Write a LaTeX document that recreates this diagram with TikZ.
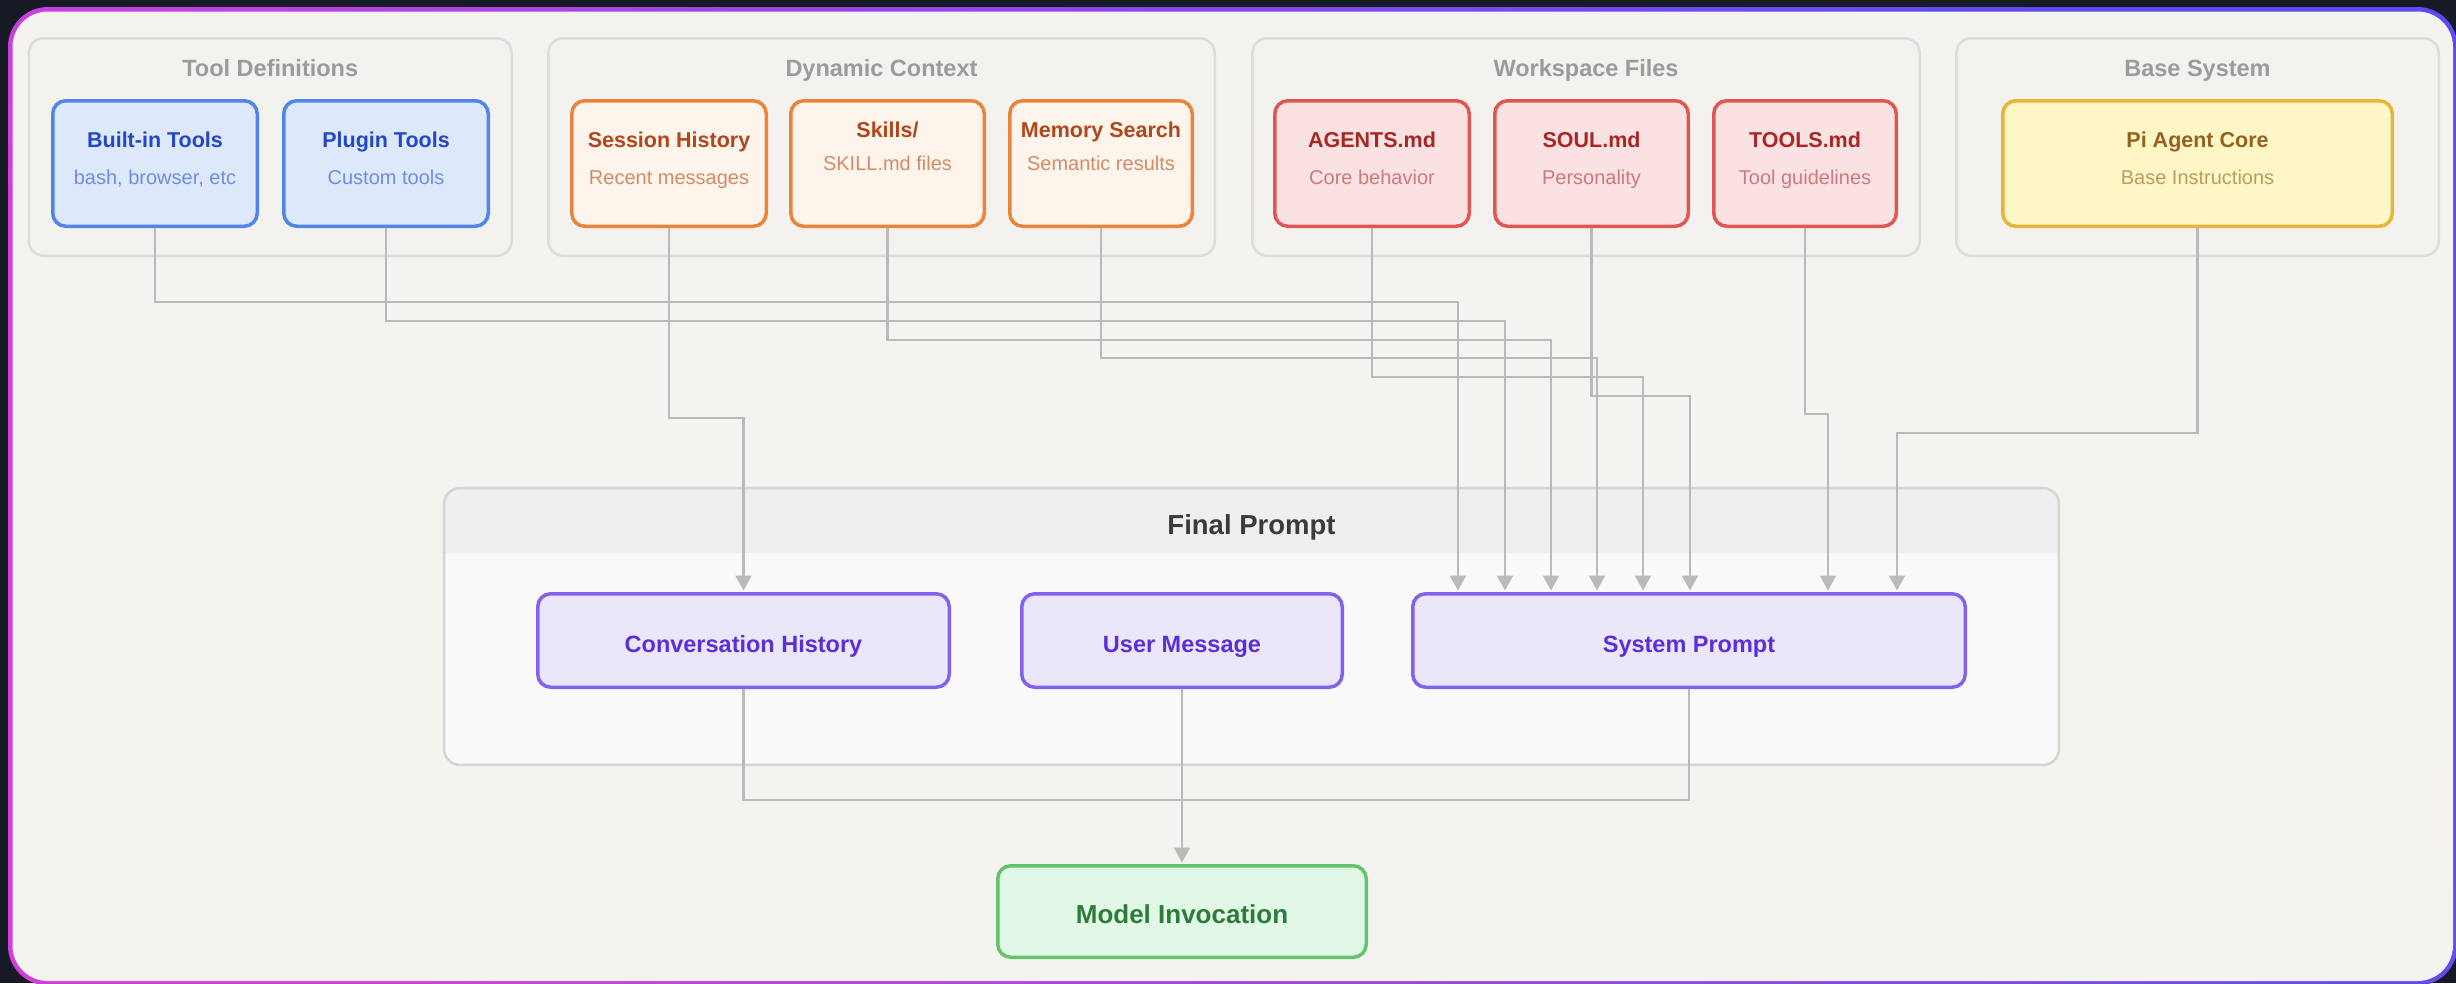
\documentclass[tikz,border=0pt]{standalone}
\usepackage{fontspec}
\setmainfont{Liberation Sans}
\usetikzlibrary{arrows.meta}

\definecolor{pagebg}{HTML}{151A25}
\definecolor{canvasc}{HTML}{F4F3EF}
\definecolor{framemag}{HTML}{D23EDD}
\definecolor{frameblue}{HTML}{5A4CF2}
\definecolor{grpfill}{HTML}{F3F2EE}
\definecolor{grpdraw}{HTML}{DCDCDA}
\definecolor{grptxt}{HTML}{9B9B9B}
\definecolor{bluefill}{HTML}{DDE8FA}
\definecolor{bluedraw}{HTML}{4E86EA}
\definecolor{bluet}{HTML}{2347C5}
\definecolor{blues}{HTML}{6E8EE2}
\definecolor{orgfill}{HTML}{FDF5EB}
\definecolor{orgdraw}{HTML}{EA843B}
\definecolor{orgt}{HTML}{B1461D}
\definecolor{orgs}{HTML}{D18B69}
\definecolor{redfill}{HTML}{F9E2E1}
\definecolor{reddraw}{HTML}{DF5753}
\definecolor{redt}{HTML}{A72727}
\definecolor{reds}{HTML}{CC7A7A}
\definecolor{yelfill}{HTML}{FDF7C8}
\definecolor{yeldraw}{HTML}{E6B63C}
\definecolor{yelt}{HTML}{94611F}
\definecolor{yels}{HTML}{BE9B5E}
\definecolor{purfill}{HTML}{EBE7FB}
\definecolor{purdraw}{HTML}{8262EC}
\definecolor{purt}{HTML}{5B2ED6}
\definecolor{grnfill}{HTML}{E1F8E7}
\definecolor{grndraw}{HTML}{63C46B}
\definecolor{grnt}{HTML}{2F7B3B}
\definecolor{fpfill}{HTML}{F9F9F9}
\definecolor{fphead}{HTML}{EFEFEF}
\definecolor{fpdraw}{HTML}{D5D5D5}
\definecolor{fptxt}{HTML}{3B3B3B}
\definecolor{connc}{HTML}{BABABA}

\begin{document}
\begin{tikzpicture}[x=1pt,y=-1pt,
  group/.style={draw=grpdraw, fill=grpfill, line width=2.5pt, rounded corners=15pt,
    inner sep=0pt, minimum height=217.5pt},
  grptitle/.style={anchor=base, inner sep=0pt, text=grptxt,
    font=\fontsize{23.5}{28}\selectfont\bfseries},
  card/.style={line width=3.5pt, rounded corners=13pt, inner sep=0pt, minimum height=125.5pt},
  bluecard/.style={card, draw=bluedraw, fill=bluefill},
  orgcard/.style={card, draw=orgdraw, fill=orgfill},
  redcard/.style={card, draw=reddraw, fill=redfill},
  yelcard/.style={card, draw=yeldraw, fill=yelfill},
  ctitle/.style={anchor=base, inner sep=0pt, font=\fontsize{21.5}{26}\selectfont\bfseries},
  csub/.style={anchor=base, inner sep=0pt, font=\fontsize{20}{24}\selectfont},
  pcard/.style={line width=3.5pt, draw=purdraw, fill=purfill, rounded corners=13pt,
    inner sep=0pt, minimum height=93.5pt},
  ptext/.style={anchor=base, inner sep=0pt, text=purt,
    font=\fontsize{23.5}{28}\selectfont\bfseries},
  link/.style={draw=connc, line width=2.2pt},
  feed/.style={link, -{Triangle[width=16pt,length=15pt]}, shorten >=1.5pt},
]
\useasboundingbox (0,0) rectangle (2456,983);

% dark page and gradient-edged canvas
\fill[pagebg] (0,0) rectangle (2456,983);
\shade[left color=framemag, right color=frameblue, shading angle=120, rounded corners=40pt]
  (8,7) rectangle (2457.5,985.5);
\fill[canvasc, rounded corners=35.5pt] (12.5,11.5) rectangle (2453,981);

% source groups
\node[group, minimum width=483pt]   (gtool) at (270.25,147) {};
\node[group, minimum width=666.5pt] (gdyn)  at (881.5,147) {};
\node[group, minimum width=667.5pt] (gws)   at (1586,147) {};
\node[group, minimum width=482.5pt] (gbase) at (2197.5,147) {};
\node[grptitle] (gtool-t) at (270.25,76.5) {Tool Definitions};
\node[grptitle] (gdyn-t)  at (881.5,76.5) {Dynamic Context};
\node[grptitle] (gws-t)   at (1586,76.5) {Workspace Files};
\node[grptitle] (gbase-t) at (2197.5,76.5) {Base System};

% source cards
\node[bluecard, minimum width=204.5pt] (builtin) at (155,163.5) {};
\node[ctitle, text=bluet] (builtin-t) at (155,147) {Built-in Tools};
\node[csub, text=blues]   (builtin-s) at (155,184) {bash, browser, etc};

\node[bluecard, minimum width=204.5pt] (plugin) at (386,163.5) {};
\node[ctitle, text=bluet] (plugin-t) at (386,147) {Plugin Tools};
\node[csub, text=blues]   (plugin-s) at (386,184) {Custom tools};

\node[orgcard, minimum width=194.5pt] (sess) at (669,163.5) {};
\node[ctitle, text=orgt] (sess-t) at (669,147) {Session History};
\node[csub, text=orgs]   (sess-s) at (669,184) {Recent messages};

\node[orgcard, minimum width=193.5pt] (skills) at (887.5,163.5) {};
\node[ctitle, text=orgt] (skills-t) at (887.5,137.5) {Skills/};
\node[csub, text=orgs]   (skills-s) at (887.5,170.5) {SKILL.md files};

\node[orgcard, minimum width=182.5pt] (memory) at (1101,163.5) {};
\node[ctitle, text=orgt] (memory-t) at (1101,137.5) {Memory Search};
\node[csub, text=orgs]   (memory-s) at (1101,170.5) {Semantic results};

\node[redcard, minimum width=194.5pt] (agents) at (1372,163.5) {};
\node[ctitle, text=redt] (agents-t) at (1372,147) {AGENTS.md};
\node[csub, text=reds]   (agents-s) at (1372,184) {Core behavior};

\node[redcard, minimum width=193.5pt] (soul) at (1591.5,163.5) {};
\node[ctitle, text=redt] (soul-t) at (1591.5,147) {SOUL.md};
\node[csub, text=reds]   (soul-s) at (1591.5,184) {Personality};

\node[redcard, minimum width=182.5pt] (tools) at (1805,163.5) {};
\node[ctitle, text=redt] (tools-t) at (1805,147) {TOOLS.md};
\node[csub, text=reds]   (tools-s) at (1805,184) {Tool guidelines};

\node[yelcard, minimum width=389.5pt] (pi) at (2197.5,163.5) {};
\node[ctitle, text=yelt] (pi-t) at (2197.5,147) {Pi Agent Core};
\node[csub, text=yels]   (pi-s) at (2197.5,184) {Base Instructions};

% final prompt container with its header band
\node[fill=fpfill, rounded corners=16pt, inner sep=0pt,
  minimum width=1614.5pt, minimum height=276.5pt] (final) at (1251.5,626.5) {};
\begin{scope}
  \clip[rounded corners=16pt] (final.north west) rectangle (final.south east);
  \fill[fphead] (final.north west) rectangle (final.east |- 0,553);
\end{scope}
\draw[fpdraw, line width=2.5pt, rounded corners=16pt] (final.north west) rectangle (final.south east);
\node[anchor=base, inner sep=0pt, text=fptxt, font=\fontsize{27.5}{32}\selectfont\bfseries]
  (final-t) at (1251.5,534.5) {Final Prompt};

% prompt parts
\node[pcard, minimum width=411.5pt] (conv) at (743.5,640.5) {};
\node[ptext] (conv-t) at (743.5,652.5) {Conversation History};
\node[pcard, minimum width=320.5pt] (user) at (1182,640.5) {};
\node[ptext] (user-t) at (1182,652.5) {User Message};
\node[pcard, minimum width=552.5pt] (sys) at (1689,640.5) {};
\node[ptext] (sys-t) at (1689,652.5) {System Prompt};

% model call
\node[line width=3.5pt, draw=grndraw, fill=grnfill, rounded corners=13pt, inner sep=0pt,
  minimum width=368.5pt, minimum height=91.5pt] (model) at (1182,911.5) {};
\node[anchor=base, inner sep=0pt, text=grnt, font=\fontsize{26}{30}\selectfont\bfseries]
  (model-t) at (1182,923) {Model Invocation};

% sources feeding the system prompt
\foreach \src/\xx/\yy in {builtin/1458/302, plugin/1505/321, skills/1551/340,
    memory/1597/358, agents/1643/377, soul/1690/396, tools/1828/414, pi/1897/433}
  \draw[feed] (\src.south) |- (\xx,\yy) -- (sys.north -| \xx,0);

% session history into the conversation
\draw[feed] (sess.south) |- (conv.north |- 0,418) -- (conv.north);

% everything merges into the model call
\coordinate (merge) at (model.north |- 0,800);
\draw[link] (conv.south) |- (merge);
\draw[link] (sys.south) |- (merge);
\draw[feed] (user.south) -- (model.north);
\end{tikzpicture}
\end{document}
